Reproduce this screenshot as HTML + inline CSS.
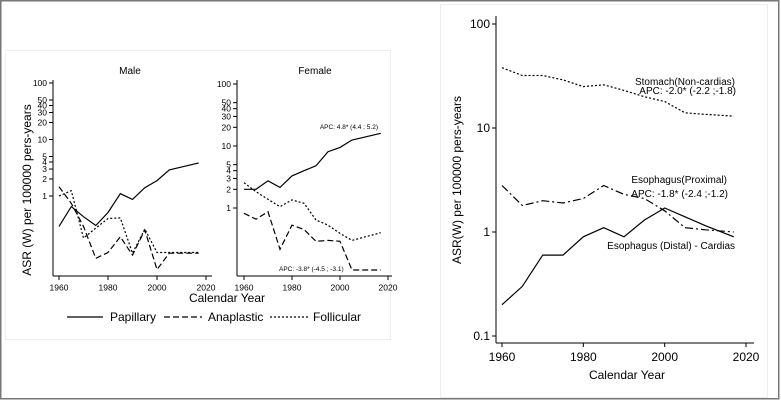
<!DOCTYPE html>
<html><head><meta charset="utf-8"><style>
body{margin:0;background:#fff}
svg{display:block;font-family:"Liberation Sans",sans-serif}
</style></head><body>
<svg id="c" width="781" height="400" viewBox="0 0 781 400">
<rect x="0.75" y="0.75" width="778" height="398" fill="#fff" stroke="#777" stroke-width="1.5"/>
<rect x="5.5" y="50.5" width="385" height="289" fill="#fff" stroke="#eee"/>
<rect x="440.5" y="4.5" width="327" height="393" fill="#fff" stroke="#eee"/>
<g id="left"></g>
<g id="right"></g>
</svg>
<script>
const years = [1960,1965,1970,1975,1980,1985,1990,1995,2000,2005,2010,2017];
const yearsT = [1960,1965,1970,1975,1980,1985,1990,1995,2000,2005,2017];
const maleTicks = [100,50,40,30,20,10,5,4,3,2,1];
const xTicks = [1960,1980,2000,2020];
const malePapillary = [0.29,0.65,0.43,0.30,0.51,1.1,0.87,1.4,1.87,2.9,3.85];
const maleAnaplastic = [1.46,0.74,0.29,0.079,0.10,0.19,0.09,0.25,0.05,0.097,0.097];
const maleFollicular = [1.0,1.24,0.18,0.27,0.40,0.41,0.097,0.26,0.1,0.1,0.1];
const femalePapillary = [2.0,2.0,2.75,2.15,3.3,4.0,4.8,8.1,9.5,12.5,16];
const femaleAnaplastic = [0.82,0.66,0.87,0.216,0.53,0.45,0.29,0.30,0.29,0.1,0.1];
const femaleFollicular = [2.56,1.83,1.38,1.05,1.35,1.19,0.64,0.53,0.39,0.30,0.40];
const rightTicks = [100,10,1,0.1];
const stomach = [38,32,32,29,25,26,23,20,18,14,13.5,13];
const proximal = [2.8,1.8,2.0,1.9,2.1,2.8,2.3,2.1,1.6,1.1,1.05,1.0];
const distal = [0.2,0.3,0.6,0.6,0.9,1.1,0.9,1.3,1.7,1.4,1.15,0.9];

const NS='http://www.w3.org/2000/svg';
function mk(parent,tag,attrs,text){const e=document.createElementNS(NS,tag);for(const k in attrs)e.setAttribute(k,attrs[k]);if(text!==undefined)e.textContent=text;parent.appendChild(e);return e;}
const DASH={solid:'',dash:'6,3',dot:'2,2',dashdot:'8,3,2,3'};

function panel(g,o){
  const X=y=>o.x0+(y-1960)*o.px;
  const Y=v=>o.y1-o.dec*Math.log10(v);
  const ax=mk(g,'line',{x1:o.ax,y1:o.top,x2:o.ax,y2:o.bot,stroke:'#000','stroke-width':1});
  
  
  const bx=mk(g,'line',{x1:o.ax,y1:o.bot,x2:o.xe,y2:o.bot,stroke:'#000','stroke-width':1});
  
  
  o.yt.forEach(v=>{
    const y=Y(v);
    const t=mk(g,'line',{x1:o.ax-4,y1:y,x2:o.ax,y2:y,stroke:'#000'});
    
    
    const l=mk(g,'text',{x:o.ax-6,y:y+o.fs*0.35,'font-size':o.fs,'text-anchor':'end'},String(v));
    
    
  });
  xTicks.forEach(v=>{
    const x=X(v);
    const t=mk(g,'line',{x1:x,y1:o.bot,x2:x,y2:o.bot+4,stroke:'#000'});
    
    
    const l=mk(g,'text',{x:x,y:o.bot+6+o.fs,'font-size':o.fs,'text-anchor':'middle'},String(v));
    
    
  });
  o.series.forEach(s=>{
    const d=s.v.map((v,i)=>(i?'L':'M')+X(s.yr[i]).toFixed(1)+','+Y(v).toFixed(1)).join('');
    const p=mk(g,'path',{d:d,fill:'none',stroke:'#000','stroke-width':1.2,'stroke-dasharray':DASH[s.st]});
    
    
  });
}
const L=document.getElementById('left'), R=document.getElementById('right');
panel(L,{name:'male',x0:59,px:2.45,y1:196,dec:56.5,ax:53,top:80,bot:276,xe:212,fs:8.5,yt:maleTicks,
  series:[{n:'papillary',v:malePapillary,yr:yearsT,st:'solid'},{n:'anaplastic',v:maleAnaplastic,yr:yearsT,st:'dash'},{n:'follicular',v:maleFollicular,yr:yearsT,st:'dot'}]});
panel(L,{name:'female',x0:244,px:2.4,y1:208,dec:62,ax:237,top:80,bot:276,xe:392,fs:8.5,yt:maleTicks,
  series:[{n:'papillary',v:femalePapillary,yr:yearsT,st:'solid'},{n:'anaplastic',v:femaleAnaplastic,yr:yearsT,st:'dash'},{n:'follicular',v:femaleFollicular,yr:yearsT,st:'dot'}]});
panel(R,{name:'gastric',x0:502,px:4.067,y1:232,dec:104,ax:496,top:16,bot:343,xe:754,fs:12,yt:rightTicks,
  series:[{n:'stomach',v:stomach,yr:years,st:'dot'},{n:'proximal',v:proximal,yr:years,st:'dashdot'},{n:'distal',v:distal,yr:years,st:'solid'}]});
</script>
<div style="position:absolute;left:0;top:0;width:781px;height:400px;pointer-events:none">
<svg width="781" height="400" style="font-family:'Liberation Sans',sans-serif">
<text x="130" y="74" font-size="10" text-anchor="middle">Male</text>
<text x="315" y="74" font-size="10" text-anchor="middle">Female</text>
<text transform="translate(31,190) rotate(-90)" font-size="12" text-anchor="middle">ASR (W) per 100000 pers-years</text>
<text x="227" y="302" font-size="12" text-anchor="middle">Calendar Year</text>
<text x="378" y="129" font-size="6.5" text-anchor="end">APC: 4.8* (4.4 ; 5.2)</text>
<text x="279" y="271" font-size="6.5">APC: -3.8* (-4.5 ; -3.1)</text>
<g>
<line x1="67" y1="317" x2="103" y2="317" stroke="#000" stroke-width="1.2"/>
<text x="110" y="321" font-size="12">Papillary</text>
<line x1="164" y1="317" x2="202" y2="317" stroke="#000" stroke-width="1.2" stroke-dasharray="6,3"/>
<text x="208" y="321" font-size="12">Anaplastic</text>
<line x1="270" y1="317" x2="308" y2="317" stroke="#000" stroke-width="1.2" stroke-dasharray="2,2"/>
<text x="313" y="321" font-size="12">Follicular</text>
</g>
<text transform="translate(461,180) rotate(-90)" font-size="12" text-anchor="middle">ASR(W)  per 100000  pers-years</text>
<text x="627" y="379" font-size="12" text-anchor="middle">Calendar Year</text>
<text x="735" y="85" font-size="10" text-anchor="end">Stomach(Non-cardias)</text>
<text x="736" y="94" font-size="10" text-anchor="end">APC: -2.0* (-2.2 ;-1.8)</text>
<text x="727" y="183" font-size="10" text-anchor="end">Esophagus(Proximal)</text>
<text x="728" y="197" font-size="10" text-anchor="end">APC: -1.8* (-2.4 ;-1.2)</text>
<text x="735" y="249" font-size="10" text-anchor="end">Esophagus (Distal) - Cardias</text>
</svg></div>
</body></html>
